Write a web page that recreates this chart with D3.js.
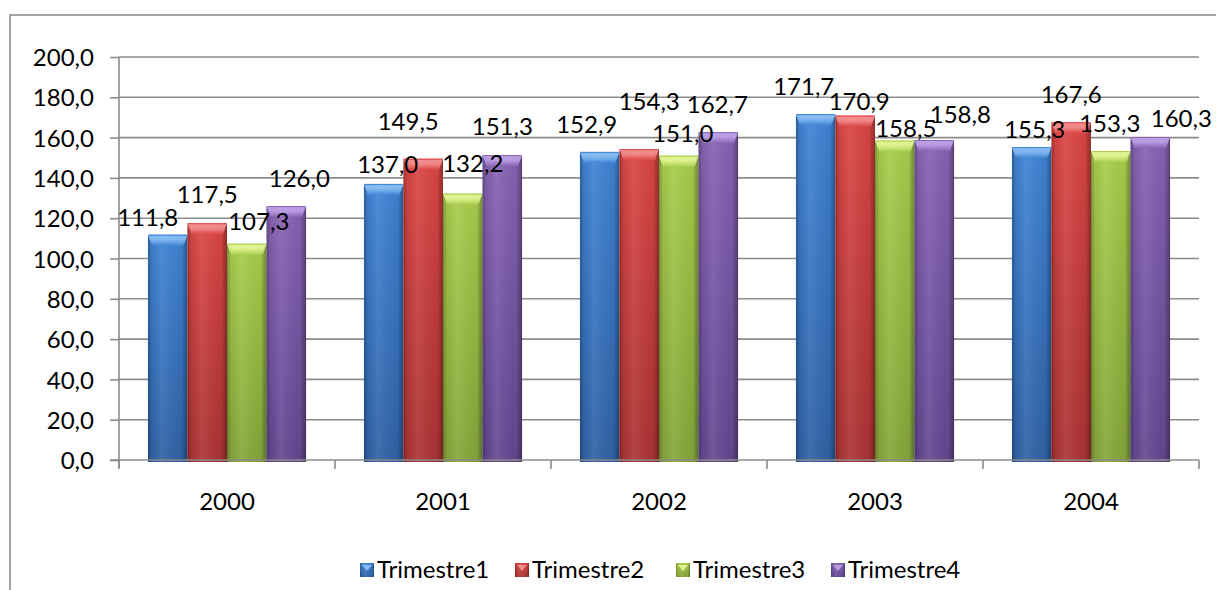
<!DOCTYPE html>
<html>
<head>
<meta charset="utf-8">
<script src="https://cdn.jsdelivr.net/npm/d3@7"></script>
<style>
  html, body { margin: 0; padding: 0; background: #fff; }
  svg { display: block; }
  text { font-family: Lato, "Open Sans", sans-serif; fill: #000; }
</style>
</head>
<body>
<svg id="chart" width="1216" height="590"></svg>
<script>
// Quarterly values per year
const years = ["2000", "2001", "2002", "2003", "2004"];
const seriesNames = ["Trimestre1", "Trimestre2", "Trimestre3", "Trimestre4"];
const trimestre1 = [111.8, 137.0, 152.9, 171.7, 155.3];
const trimestre2 = [117.5, 149.5, 154.3, 170.9, 167.6];
const trimestre3 = [107.3, 132.2, 151.0, 158.5, 153.3];
const trimestre4 = [126.0, 151.3, 162.7, 158.8, 160.3];
const yTicks = [0, 20, 40, 60, 80, 100, 120, 140, 160, 180, 200];

// Label nudges [dx, dy] (px) relative to the top centre of each bar, per year then series
const labelNudge = [
  [[-20, -9], [0, -20], [12, -14], [13, -19]],
  [[4, -11], [-15, -29], [10, -22], [0, -20]],
  [[-13, -19], [10, -39], [4, -14], [-1, -19]],
  [[-12, -19], [4, -6], [11, -4], [26, -17]],
  [[3, -9], [0, -19], [-1, -19], [31, -10]]
];

const seriesValues = [trimestre1, trimestre2, trimestre3, trimestre4];

// Palette: base, dark (bottom/edges), light (top bevel)
const palette = [
  { base: "#4084d6", dark: "#2f62a6", light: "#8cc0f5" },
  { base: "#dc4646", dark: "#ab3333", light: "#f59393" },
  { base: "#a9ce4c", dark: "#86a63a", light: "#e6f79a" },
  { base: "#8764b4", dark: "#634791", light: "#c0a4e8" }
];

const locale = d3.formatLocale({ decimal: ",", thousands: ".", grouping: [3], currency: ["", ""] });
const fmt = locale.format(".1f");
const FS = 24;

const svg = d3.select("#chart");
const margin = { left: 119, right: 17, top: 57, bottom: 130 };
const W = 1216;
const plotBottom = 460;

const y = d3.scaleLinear().domain([0, 200]).range([plotBottom, margin.top]);
const x0 = d3.scaleBand().domain(years).range([margin.left, W - margin.right])
  .paddingInner(0.268).paddingOuter(0.134);
const x1 = d3.scaleBand().domain(seriesNames).range([0, x0.bandwidth()]).padding(0);

// Outer frame
svg.append("rect")
  .attr("x", 10).attr("y", 15).attr("width", 1212).attr("height", 620)
  .attr("fill", "none").attr("stroke", "#8c8c8c").attr("stroke-width", 1.6);

// Gradients
const defs = svg.append("defs");
palette.forEach((c, i) => {
  const g = defs.append("linearGradient").attr("id", "body" + i)
    .attr("x1", 0).attr("y1", 0).attr("x2", 0).attr("y2", 1);
  g.append("stop").attr("offset", "0%").attr("stop-color", c.base);
  g.append("stop").attr("offset", "100%").attr("stop-color", c.dark);

  const cap = defs.append("linearGradient").attr("id", "cap" + i)
    .attr("x1", 0).attr("y1", 0).attr("x2", 0).attr("y2", 1);
  cap.append("stop").attr("offset", "0%").attr("stop-color", c.light);
  cap.append("stop").attr("offset", "45%").attr("stop-color", c.light).attr("stop-opacity", 0.9);
  cap.append("stop").attr("offset", "100%").attr("stop-color", c.base);
});
// Horizontal shading overlay for the cylinder-like bevel
const shade = defs.append("linearGradient").attr("id", "shade")
  .attr("x1", 0).attr("y1", 0).attr("x2", 1).attr("y2", 0);
shade.append("stop").attr("offset", "0%").attr("stop-color", "#000").attr("stop-opacity", 0.28);
shade.append("stop").attr("offset", "10%").attr("stop-color", "#000").attr("stop-opacity", 0.05);
shade.append("stop").attr("offset", "35%").attr("stop-color", "#fff").attr("stop-opacity", 0.08);
shade.append("stop").attr("offset", "85%").attr("stop-color", "#000").attr("stop-opacity", 0.04);
shade.append("stop").attr("offset", "100%").attr("stop-color", "#000").attr("stop-opacity", 0.35);

// Gridlines
svg.append("g").selectAll("line").data(yTicks.filter(d => d > 0)).join("line")
  .attr("x1", margin.left).attr("x2", W - margin.right)
  .attr("y1", d => y(d)).attr("y2", d => y(d))
  .attr("stroke", "#8c8c8c").attr("stroke-width", 1.6);

// Y axis
const yAxis = d3.axisLeft(y).tickValues(yTicks).tickSize(9).tickPadding(16)
  .tickFormat(d => fmt(d));
const yg = svg.append("g").attr("transform", `translate(${margin.left},0)`).call(yAxis);
yg.select(".domain").attr("stroke", "#8c8c8c").attr("stroke-width", 1.6)
  .attr("d", `M0,${margin.top}V${plotBottom + 8}`);
yg.selectAll(".tick line").attr("stroke", "#8c8c8c").attr("stroke-width", 1.6);
yg.selectAll(".tick text").attr("font-size", FS).attr("fill", "#000")
  .attr("font-family", "Lato, 'Open Sans', sans-serif").attr("dy", "0.36em");

// Bars
const groups = svg.append("g").selectAll("g").data(years).join("g")
  .attr("transform", d => `translate(${x0(d)},0)`);

groups.each(function (yr, yi) {
  const g = d3.select(this);
  seriesNames.forEach((s, si) => {
    const v = seriesValues[si][yi];
    const bx = x1(s), bw = x1.bandwidth();
    const top = y(v), bottom = plotBottom + 2;
    g.append("rect").attr("x", bx).attr("y", top).attr("width", bw).attr("height", bottom - top)
      .attr("fill", `url(#body${si})`);
    g.append("rect").attr("x", bx).attr("y", top).attr("width", bw).attr("height", bottom - top)
      .attr("fill", "url(#shade)");
    // top bevel
    const capH = Math.min(11, bottom - top);
    g.append("path")
      .attr("d", `M${bx},${top}H${bx + bw}L${bx + bw - 4},${top + capH}H${bx + 4}Z`)
      .attr("fill", `url(#cap${si})`).attr("opacity", 0.95);
    g.append("line").attr("x1", bx + 1).attr("x2", bx + bw - 1).attr("y1", top + 0.5).attr("y2", top + 0.5)
      .attr("stroke", palette[si].base).attr("stroke-width", 1);
  });
});

// X axis
const xg = svg.append("g").attr("transform", `translate(0,${plotBottom})`);
xg.append("line").attr("x1", margin.left - 9).attr("x2", W - margin.right)
  .attr("stroke", "#8c8c8c").attr("stroke-width", 1.6);
const catEdges = years.map(d => x0(d) - x0.step() * x0.paddingOuter()).concat([W - margin.right]);
xg.selectAll("line.tick").data(catEdges).join("line").attr("class", "tick")
  .attr("x1", d => d).attr("x2", d => d).attr("y1", 0).attr("y2", 9)
  .attr("stroke", "#8c8c8c").attr("stroke-width", 1.6);
xg.selectAll("text").data(years).join("text")
  .attr("x", d => x0(d) + x0.bandwidth() / 2).attr("y", 50)
  .attr("text-anchor", "middle").attr("font-size", FS).text(d => d);

// Data labels
groups.each(function (yr, yi) {
  const g = d3.select(this);
  seriesNames.forEach((s, si) => {
    const v = seriesValues[si][yi];
    const [dx, dy] = labelNudge[yi][si];
    g.append("text")
      .attr("x", x1(s) + x1.bandwidth() / 2 + dx)
      .attr("y", y(v) + dy)
      .attr("text-anchor", "middle").attr("font-size", FS)
      .text(fmt(v));
  });
});

// Legend
const legendX = [360, 515, 676, 831];
const legend = svg.append("g");
seriesNames.forEach((s, i) => {
  const lg = legend.append("g").attr("transform", `translate(${legendX[i]},563)`);
  lg.append("rect").attr("width", 14).attr("height", 14).attr("fill", `url(#body${i})`);
  lg.append("rect").attr("width", 14).attr("height", 14).attr("fill", "url(#shade)");
  lg.append("path").attr("d", "M2,2H12L7,8Z").attr("fill", palette[i].light).attr("opacity", 0.9);
  lg.append("text").attr("x", 17).attr("y", 15).attr("font-size", FS).text(s);
});
</script>
</body>
</html>
